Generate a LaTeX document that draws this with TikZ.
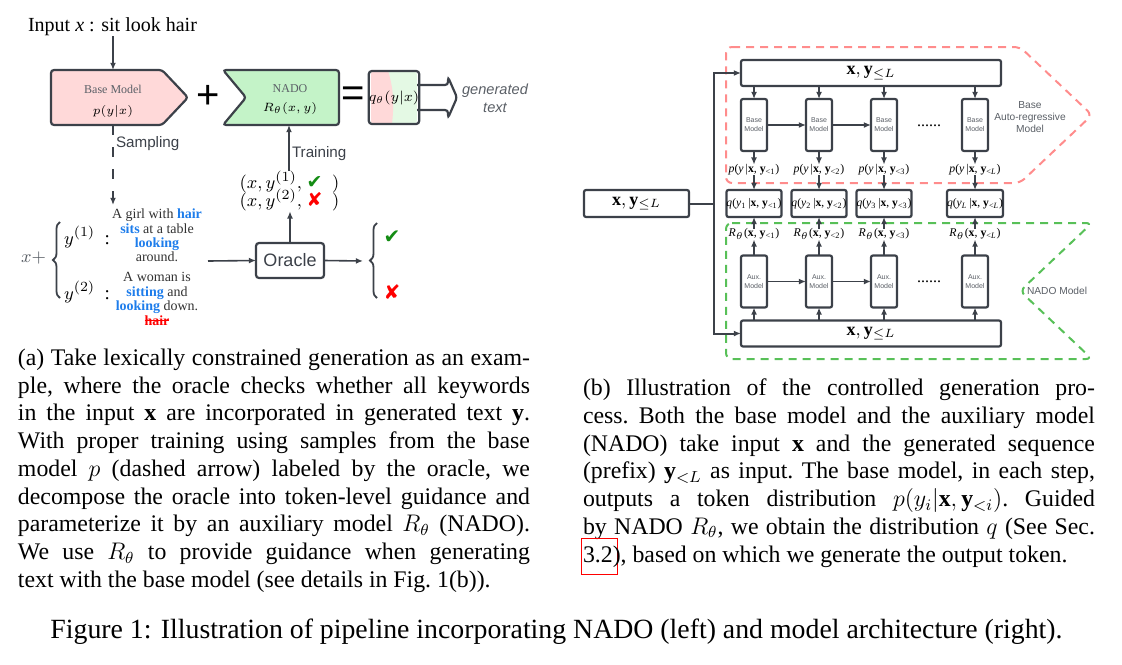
\documentclass[tikz,border=0pt]{standalone}
\usepackage{fontspec}
\setmainfont{Liberation Serif}
\setsansfont{Liberation Sans}
\newfontfamily\dingfont{DejaVu Sans}
\usetikzlibrary{arrows.meta,positioning,decorations.pathreplacing,calc}

\definecolor{linegray}{RGB}{60,65,73}
\definecolor{basepink}{RGB}{255,217,217}
\definecolor{nadogreen}{RGB}{196,243,200}
\definecolor{qgreen}{RGB}{228,249,228}
\definecolor{pinkdash}{RGB}{255,140,140}
\definecolor{greendash}{RGB}{88,192,88}
\definecolor{kwblue}{RGB}{30,125,235}
\definecolor{okgreen}{RGB}{20,140,20}
\definecolor{labelgray}{RGB}{90,95,102}
\definecolor{sentgray}{RGB}{50,50,50}

\newcommand{\kw}[1]{\textcolor{kwblue}{\textbf{#1}}}
\newcommand{\okmark}{\textcolor{okgreen}{\dingfont ✔}}
\newcommand{\badmark}{\textcolor{red}{\dingfont ✘}}
\newcommand{\strikeword}[1]{\setbox0=\hbox{#1}\rlap{#1}\rule[0.3em]{\wd0}{0.5pt}}
\newcommand{\tightlines}{\lineskiplimit=-6pt\relax}
\newcommand{\nohyph}{\hyphenpenalty=10000\relax\exhyphenpenalty=10000\relax\frenchspacing}
% text-mode labels of the step outputs
\newcommand{\prefix}[1]{\textbf{x}, \textbf{y}\textsubscript{<#1}}
\newlength{\capw}
\setlength{\capw}{256pt}
\newcommand{\reflink}[1]{\leavevmode\setbox0=\hbox{#1}\rlap{\kern-1pt\raisebox{-6pt}[0pt][0pt]{\textcolor{red}{\fboxsep=0pt\fboxrule=0.6pt\fbox{\rule{0pt}{17.5pt}\rule{\dimexpr\wd0+2.5pt\relax}{0pt}}}}}\box0}

\begin{document}
\begin{tikzpicture}[x=0.5pt, y=-0.5pt,
    every node/.style={inner sep=0pt, outer sep=0pt},
    conn/.style={draw=linegray, line width=0.8pt, -{Latex[length=3.6pt,width=3pt]}},
    outline/.style={draw=linegray, line width=1.1pt, rounded corners=1.5pt},
    stepbox/.style={draw=linegray, line width=1.1pt, rounded corners=1pt, fill=white, minimum width=13pt, minimum height=26pt, align=center, font=\fontsize{3.5}{4.4}\selectfont\sffamily, text=labelgray},
    seqbox/.style={draw=linegray, line width=1.1pt, rounded corners=1pt, fill=white, minimum width=130pt, minimum height=13pt, font=\fontsize{9}{9}\selectfont},
    qbox/.style={draw=linegray, line width=1.1pt, rounded corners=1pt, fill=white, minimum width=26.5pt, minimum height=13.5pt, font=\fontsize{5.8}{6}\selectfont},
    dist/.style={font=\fontsize{5.9}{6}\selectfont},
    grouplbl/.style={font=\fontsize{5.1}{6}\selectfont\sffamily, text=labelgray, align=center},
    sent/.style={font=\fontsize{7}{7.2}\selectfont, text=sentgray, align=center},
    sanslbl/.style={font=\fontsize{7.6}{9}\selectfont\sffamily, text=linegray, anchor=west},
    bigsym/.style={font=\fontsize{20}{20}\selectfont\sffamily},
    capfont/.style={font=\fontsize{11.9}{13.86}\selectfont\nohyph, text width=\capw, align=justify, anchor=north west}]
    \useasboundingbox (0,0) rectangle (1122,664);

    % Left: pipeline
    \node[font=\fontsize{10}{12}\selectfont] (inp) at (112.5,27) {Input \textit{x} : sit look hair};
    \draw[outline, fill=basepink] (51,70) -- (162,70) -- (188,97.5) -- (162,125) -- (51,125) -- cycle;
    \coordinate (bmtop) at (113,70);
    \coordinate (bmbot) at (113,125);
    \node[font=\fontsize{6}{7}\selectfont, text=labelgray] (bmname) at (113,89) {Base Model};
    \node[font=\fontsize{6.5}{7}\selectfont] (bmdist) at (113,111) {$p(y|x)$};
    \draw[conn] (inp.south -| bmtop) -- (bmtop);

    \node[bigsym] (plus) at (208,97) {+};
    \draw[outline, fill=nadogreen] (223,70) -- (339,70) -- (339,125) -- (223,125) -- (246,97.5) -- cycle;
    \coordinate (ndbot) at (289,125);
    \node[font=\fontsize{6}{7}\selectfont, text=labelgray] (ndname) at (290,89) {NADO};
    \node[font=\fontsize{6.5}{7}\selectfont] (nddist) at (290,108) {$R_\theta(x,y)$};
    \node[bigsym] (eq) at (353,97) {=};

    \begin{scope}
        \clip[rounded corners=1.5pt] (371,71) rectangle (417,124);
        \fill[qgreen] (371,71) rectangle (417,124);
        \fill[basepink] (371,71) -- (388,71) .. controls (394,90) and (394,105) .. (392,124) -- (371,124) -- cycle;
    \end{scope}
    \node[draw=linegray, line width=1.1pt, rounded corners=1.5pt, minimum width=23pt, minimum height=26.5pt, font=\fontsize{6.8}{7}\selectfont] (qout) at (394,97.5) {$q_\theta(y|x)$};
    \draw[outline] (417,85) -- (448,85) -- (448,77) -- (457,97.5) -- (448,118) -- (448,110) -- (417,110);
    \node[font=\fontsize{7.3}{9}\selectfont\sffamily\itshape, text=labelgray, align=center] (gen) at (495,98) {generated\\text};

    % Sampling and training
    \coordinate (samptip) at (113,205);
    \draw[conn, dash pattern=on 5pt off 6pt] (bmbot) -- (samptip);
    \node[sanslbl] (samp) at (116,144) {Sampling};
    \node[font=\fontsize{9.5}{9}\selectfont\tightlines, align=left] (tup) at (289.5,191) {$(x, y^{(1)},$ \okmark\ \ $)$\\$(x, y^{(2)},$ \badmark\ \ $)$};
    \draw[conn] (tup.north -| ndbot) -- (ndbot);
    \node[sanslbl] (train) at (292,154) {Training};

    % Samples and oracle
    \node[font=\fontsize{9.5}{10}\selectfont, text=labelgray] (xplus) at (33.5,258) {$x+$};
    \draw[linegray, line width=0.9pt, decorate, decoration={brace, amplitude=3.5pt}] (60,298) -- (60,222);
    \node[font=\fontsize{9.5}{10}\selectfont, anchor=west] (y1) at (64,237) {$y^{(1)}$\enspace:};
    \node[font=\fontsize{9.5}{10}\selectfont, anchor=west] (y2) at (64,292) {$y^{(2)}$\enspace:};
    \node[sent] (s1) at (157,235.5) {A girl with \kw{hair}\\\kw{sits} at a table\\\kw{looking}\\around.};
    \node[sent] (s2) at (157,299) {A woman is\\\kw{sitting} and\\\kw{looking} down.\\\textcolor{red}{\strikeword{\textbf{hair}}}};
    \node[draw=linegray, line width=1.1pt, rounded corners=1.5pt, minimum width=34pt, minimum height=17.5pt, font=\fontsize{9}{10}\selectfont\sffamily, text=linegray] (orc) at (290,260.5) {Oracle};
    \coordinate (sentend) at (208,261);
    \coordinate (verdict) at (363,261);
    \draw[conn] (sentend) -- (orc.west);
    \draw[conn] (orc.east) -- (verdict);
    \draw[conn] (orc.north) -- (tup.south -| orc.north);
    \draw[linegray, line width=0.9pt, decorate, decoration={brace, amplitude=3.5pt}] (377,298) -- (377,223);
    \node[font=\fontsize{10}{10}\selectfont] (ok) at (392,237) {\okmark};
    \node[font=\fontsize{10}{10}\selectfont] (bad) at (392,292) {\badmark};

    % Right: architecture
    \draw[pinkdash, line width=1pt, dash pattern=on 4pt off 3pt, rounded corners=3pt] (726,47) -- (1020,47) -- (1092,115) -- (1020,183) -- (726,183) -- cycle;
    \draw[greendash, line width=1pt, dash pattern=on 4pt off 3pt, rounded corners=3pt] (726,223) -- (1092,223) -- (1020,291) -- (1092,359) -- (726,359) -- cycle;

    \node[seqbox] (xt) at (871,73) {$\mathbf{x},\mathbf{y}_{\leq L}$};
    \node[seqbox] (xb) at (871,333.5) {$\mathbf{x},\mathbf{y}_{\leq L}$};
    \node[seqbox, minimum width=52.5pt, minimum height=13.5pt] (xl) at (636.5,203.5) {$\mathbf{x},\mathbf{y}_{\leq L}$};
    \coordinate (fork) at (714,203.5);
    \draw[linegray, line width=1pt] (xl.east) -- (fork);
    \draw[conn, line width=1pt] (fork) |- (xt.west);
    \draw[conn, line width=1pt] (fork) |- (xb.west);

    \foreach \i/\cx/\lbl in {1/754/1, 2/819/2, 3/884/3, 4/975/\textit{L}} {
        \node[stepbox] (bm\i) at (\cx,125) {Base\\Model};
        \node[stepbox] (aux\i) at (\cx,281.5) {Aux.\\Model};
        \node[dist] (p\i) at (\cx,170) {\textit{p}(\textit{y}\,|\prefix{\lbl})};
        \node[qbox] (q\i) at (\cx,203.5) {\textit{q}(\textit{y}\textsubscript{\lbl}\,|\prefix{\lbl})};
        \node[dist] (r\i) at (\cx,234) {\textit{R}\textsubscript{$\theta$}(\prefix{\lbl})};
        \draw[conn] (xt.south -| bm\i) -- (bm\i.north);
        \draw[conn] (bm\i.south) -- (p\i.north);
        \draw[conn] (p\i.south) -- (q\i.north);
        \draw[conn] (xb.north -| aux\i) -- (aux\i.south);
        \draw[conn] (aux\i.north) -- (r\i.south);
        \draw[conn] (r\i.north) -- (q\i.south);
    }
    \draw[conn] (bm1) -- (bm2);
    \draw[conn] (bm2) -- (bm3);
    \draw[conn] (aux1) -- (aux2);
    \draw[conn] (aux2) -- (aux3);
    \node[font=\fontsize{8}{8}\selectfont] (dotsb) at (929,126) {......};
    \node[font=\fontsize{8}{8}\selectfont] (dotsa) at (929,282) {......};
    \node[grouplbl] (baselbl) at (1030,117) {Base\\Auto-regressive\\Model};
    \node[grouplbl, anchor=west] (nadolbl) at (1027,291) {NADO Model};

    % Captions
    \node[capfont] (capa) at (18,349) {%
        (a) Take lexically constrained generation as an exam-\linebreak
        ple, where the oracle checks whether all keywords\linebreak
        in the input $\mathbf{x}$ are incorporated in generated text $\mathbf{y}$.\linebreak
        With proper training using samples from the base\linebreak
        model $p$ (dashed arrow) labeled by the oracle, we\linebreak
        decompose the oracle into token-level guidance and\linebreak
        parameterize it by an auxiliary model $R_\theta$ (NADO).\linebreak
        We use $R_\theta$ to provide guidance when generating\linebreak
        text with the base model (see details in Fig.~1(b)).};
    \node[capfont] (capb) at (583,379) {%
        (b) Illustration of the controlled generation pro-\linebreak
        cess. Both the base model and the auxiliary model\linebreak
        (NADO) take input $\mathbf{x}$ and the generated sequence\linebreak
        (prefix) $\mathbf{y}_{<L}$ as input. The base model, in each step,\linebreak
        outputs a token distribution $p(y_i|\mathbf{x},\mathbf{y}_{<i})$. Guided\linebreak
        by NADO $R_\theta$, we obtain the distribution $q$ (See Sec.\linebreak
        \reflink{3.2}), based on which we generate the output token.};
    \node[font=\fontsize{13.9}{16}\selectfont] (figcap) at (556.5,632) {Figure 1: Illustration of pipeline incorporating NADO (left) and model architecture (right).};
\end{tikzpicture}
\end{document}
